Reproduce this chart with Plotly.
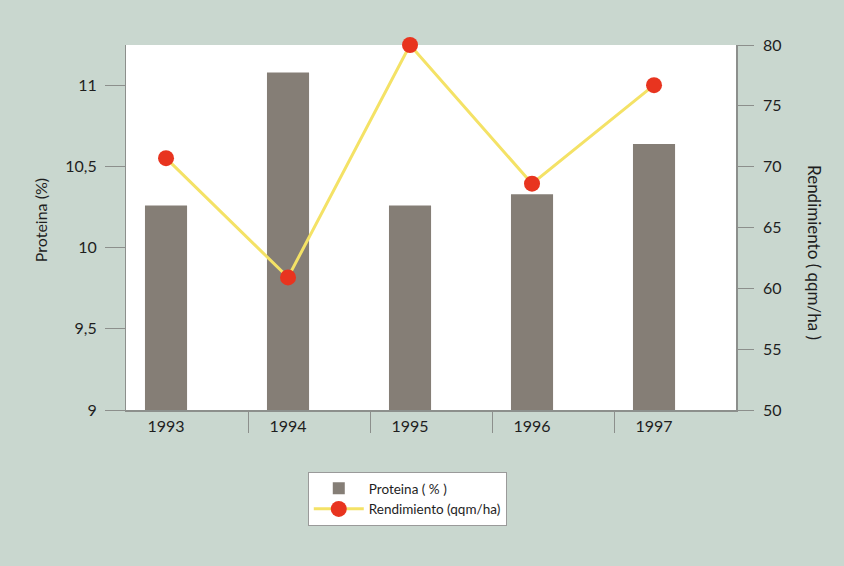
import plotly.graph_objects as go

years = ["1993", "1994", "1995", "1996", "1997"]
proteina = [10.26, 11.08, 10.26, 10.33, 10.64]
rendimiento = [70.7, 60.9, 80.0, 68.6, 76.7]

left_ticks = [9, 9.5, 10, 10.5, 11]
right_ticks = [50, 55, 60, 65, 70, 75, 80]

BG = "#c9d7cf"
AX = "#8c8f8c"
TXT = "#1e1e1e"
FONT = "Lato, 'Open Sans', sans-serif"

fig = go.Figure()
fig.add_trace(go.Bar(
    x=years, y=proteina, name="Proteina ( % )",
    marker=dict(color="#857e76", line=dict(width=0)),
    width=0.345, yaxis="y",
))
fig.add_trace(go.Scatter(
    x=years, y=rendimiento, name="Rendimiento (qqm/ha)",
    mode="lines+markers", yaxis="y2", cliponaxis=False,
    line=dict(color="#f4e266", width=3),
    marker=dict(color="#e8341f", size=16, line=dict(width=0)),
))
# invisible helper trace for boundary tick axis
fig.add_trace(go.Scatter(x=[-0.5, 4.5], y=[9, 9], xaxis="x2", yaxis="y",
                         mode="markers", marker=dict(opacity=0), showlegend=False,
                         hoverinfo="skip"))

fig.update_layout(
    width=844, height=566,
    margin=dict(l=126, r=108, t=45, b=156),
    paper_bgcolor=BG, plot_bgcolor="white",
    separators=", ",
    font=dict(family=FONT, color=TXT, size=15),
    xaxis=dict(type="category", range=[-0.328, 4.672], showline=True, linecolor=AX,
               linewidth=1.5, ticks="", showgrid=False, zeroline=False,
               tickfont=dict(size=16), ticklabelstandoff=1),
    xaxis2=dict(type="linear", range=[-0.5, 4.5], overlaying="x", anchor="y",
                side="bottom", tickvals=[0.5, 1.5, 2.5, 3.5], showticklabels=False,
                ticks="outside", ticklen=22, tickcolor=AX, tickwidth=1.2,
                showgrid=False, zeroline=False, showline=False),
    yaxis=dict(range=[9, 11.25], tickvals=left_ticks, ticks="outside", ticklen=20,
               tickcolor=AX, tickwidth=1.2, showline=True, linecolor=AX,
               linewidth=1.2, showgrid=False, zeroline=False,
               tickfont=dict(size=16), ticklabelstandoff=5),
    yaxis2=dict(range=[50, 80], tickvals=right_ticks, overlaying="y", side="right",
                ticks="outside", ticklen=16, tickcolor=AX, tickwidth=1.2,
                showline=True, linecolor=AX, linewidth=1.5, showgrid=False,
                zeroline=False, tickfont=dict(size=16), ticklabelstandoff=6),
    legend=dict(x=0.298, y=-0.17, xanchor="left", yanchor="top",
                bgcolor="white", bordercolor="#9a9a9a", borderwidth=1,
                font=dict(size=13.5, color=TXT), itemwidth=50,
                tracegroupgap=0),
    showlegend=True,
    annotations=[
        dict(text="Proteina (%)", xref="paper", yref="paper", x=-0.141, y=0.52,
             textangle=-90, showarrow=False, xanchor="center", yanchor="middle",
             font=dict(size=16, color=TXT)),
        dict(text="Rendimiento ( qqm/ha )", xref="paper", yref="paper", x=1.1295,
             y=0.43, textangle=90, showarrow=False, xanchor="center",
             yanchor="middle", font=dict(size=17, color=TXT)),
    ],
)

fig.write_html("out.html")
